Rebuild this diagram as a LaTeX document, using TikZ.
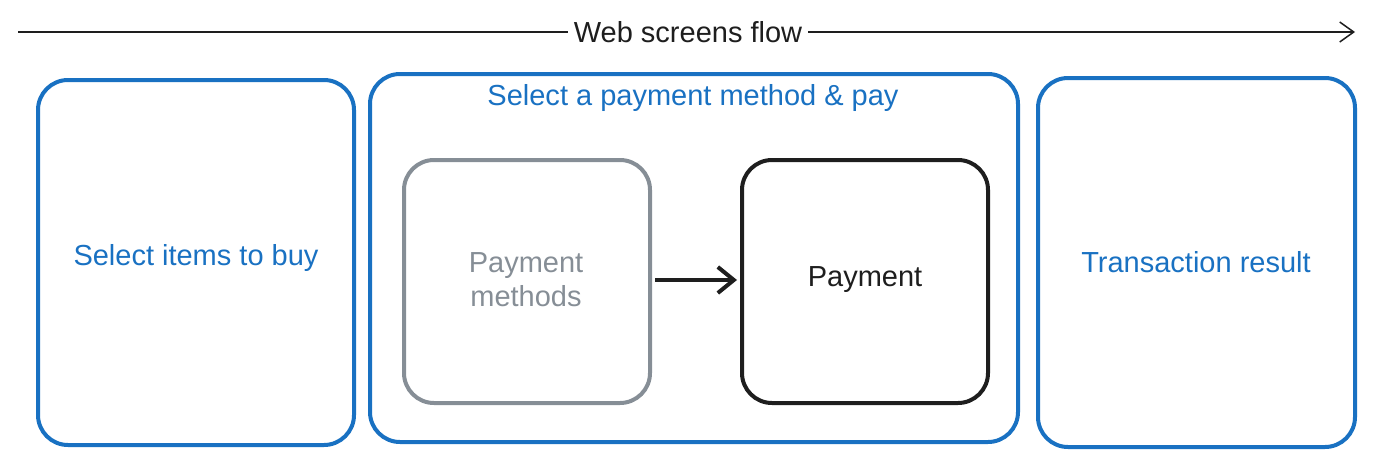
\documentclass[tikz,border=0pt]{standalone}
\usepackage{fontspec}
\setmainfont{Liberation Sans}
\usetikzlibrary{arrows.meta}
\definecolor{exblue}{HTML}{1971C2}
\definecolor{exgray}{HTML}{868E96}
\definecolor{exblack}{HTML}{1E1E1E}
\begin{document}
\begin{tikzpicture}[x=1pt,y=-1pt,
  box/.style={draw=exblue,line width=4pt,rounded corners=30pt},
  inner/.style={line width=4pt,rounded corners=30pt},
  lbl/.style={font=\fontsize{29}{34}\selectfont,align=center}]
\useasboundingbox (0,0) rectangle (1376,472);
\node[lbl,text=exblack,fill=white,inner sep=6pt] (title) at (688,32) {Web screens flow};
\coordinate (s) at (18,32);
\coordinate (e) at (1355,32);
\draw[line width=1.5pt,exblack] (s) -- (title.west);
\draw[line width=1.5pt,exblack,-{Straight Barb[length=14pt,width=20pt]}] (title.east) -- (e);
\draw[box] (38,80) rectangle (354,445);
\node[lbl,text=exblue] (b1) at (196,258) {Select items to buy};
\draw[box] (370,74) rectangle (1018,442);
\node[lbl,text=exblue] (b2) at (693,98) {Select a payment method \& pay};
\draw[box] (1038,78) rectangle (1355,447);
\node[lbl,text=exblue] (b3) at (1196,262) {Transaction result};
\draw[inner,draw=exgray] (404,160) rectangle (650,403);
\node[lbl,text=exgray] (pm) at (526,280) {Payment\\methods};
\draw[inner,draw=exblack] (742,160) rectangle (988,403);
\node[lbl,text=exblack] (p) at (865,280) {Payment};
\coordinate (a1) at (655,280);
\coordinate (a2) at (737,280);
\draw[line width=4pt,exblack,-{Straight Barb[length=16pt,width=26pt]}] (a1) -- (a2);
\end{tikzpicture}
\end{document}
